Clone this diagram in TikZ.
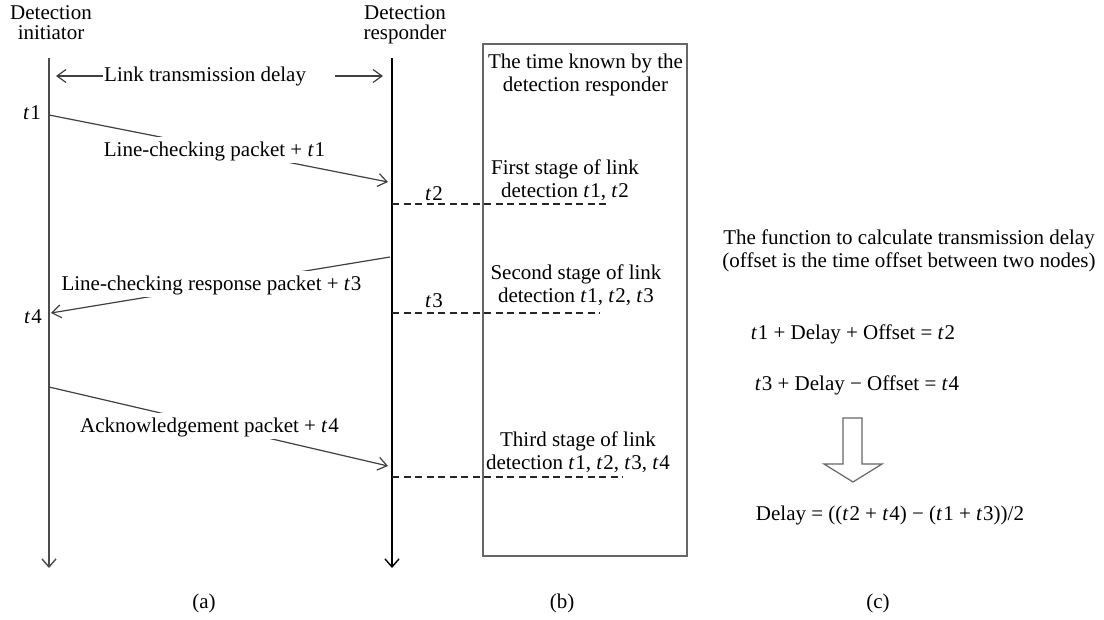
\documentclass[tikz,border=0pt]{standalone}
\usepackage{fontspec}
\setmainfont{Liberation Serif}
\usetikzlibrary{arrows.meta}
% italic time stamp, e.g. \tm1 -> t1
\newcommand{\tm}[1]{\textit{t}\kern0.8pt#1}
\begin{document}
\begin{tikzpicture}[x=1pt,y=-1pt,
  font=\fontsize{21}{23}\selectfont,
  life/.style={line width=1.6pt, draw=black!70, -{Straight Barb[length=8pt,width=14pt,line width=1.4pt]}},
  msg/.style={line width=1.2pt, draw=black!75, -{Straight Barb[length=9pt,width=13pt,line width=1.2pt]}},
  stamp/.style={draw=black!85, line width=1.2pt, dash pattern=on 7pt off 4.5pt},
  lbl/.style={anchor=base, inner sep=0pt},
  multi/.style={lbl, align=center},
  cut/.style={anchor=base, fill=white, inner xsep=2pt, inner ysep=5pt, text height=15pt, text depth=1pt},
  panel/.style={draw=black!60, line width=1.3pt, minimum width=204pt, minimum height=512pt, inner sep=0pt},
  hollow/.style={draw=black!60, line width=1.2pt, fill=white}
]
\useasboundingbox (0,0) rectangle (1104,620);

% ---- (a) lifelines ----
% (multi-line nodes are placed by the baseline of their last line)
\node[multi, font=\fontsize{21}{20}\selectfont] (hi) at (51,39.5) {Detection\\initiator};
\node[multi, font=\fontsize{21}{20}\selectfont] (hr) at (405,39.5) {Detection\\responder};

\coordinate (itop) at (49,58);  \coordinate (ibot) at (49,568);
\coordinate (rtop) at (392,58); \coordinate (rbot) at (392,568);
\draw[life] (itop) -- (ibot);
\draw[life, draw=black] (rtop) -- (rbot);

% link delay span
\node[lbl, anchor=base west] (ltd) at (104,82) {Link transmission delay};
\coordinate (dls) at (103,76); \coordinate (dl) at (56,76);
\coordinate (drs) at (335,76); \coordinate (dr) at (383,76);
\draw[msg] (dls) -- (dl);
\draw[msg] (drs) -- (dr);

% messages
\coordinate (p1s) at (49,115);  \coordinate (p1e) at (388,182);
\coordinate (p2s) at (390,257); \coordinate (p2e) at (51,313);
\coordinate (p3s) at (49,387);  \coordinate (p3e) at (388,466);
\draw[msg] (p1s) -- (p1e);
\draw[msg] (p2s) -- (p2e);
\draw[msg] (p3s) -- (p3e);
\node[cut] (m1) at (214.5,157) {Line-checking packet + \tm1};
\node[cut] (m2) at (211.5,291) {Line-checking response packet + \tm3};
\node[cut] (m3) at (209.5,433) {Acknowledgement packet + \tm4};

% time stamps
\node[lbl] (t1) at (32,120) {\tm1};
\node[lbl] (t4) at (33,324) {\tm4};
\node[lbl] (t2) at (434,201) {\tm2};
\node[lbl] (t3) at (434,308) {\tm3};

% ---- (b) known times ----
\node[panel] (kb) at (585,300) {};
\node[multi] (kt) at (585.5,92) {The time known by the\\detection responder};
\node[multi] (st1) at (565,198) {First stage of link\\detection \tm1, \tm2};
\node[multi] (st2) at (576,303) {Second stage of link\\detection \tm1, \tm2, \tm3};
\node[multi] (st3) at (578,469) {Third stage of link\\detection \tm1, \tm2, \tm3, \tm4};

\coordinate (s2) at (392,204); \coordinate (s2e) at (610,204);
\coordinate (s3) at (392,313); \coordinate (s3e) at (600,313);
\coordinate (s4) at (392,477); \coordinate (s4e) at (623,477);
\draw[stamp] (s2) -- (s2e);
\draw[stamp] (s3) -- (s3e);
\draw[stamp] (s4) -- (s4e);

% ---- (c) delay computation ----
\node[multi] (fn) at (909,268) {The function to calculate transmission delay\\(offset is the time offset between two nodes)};
\node[lbl] (eq1) at (853,340) {\tm1 + Delay + Offset = \tm2};
\node[lbl] (eq2) at (857,391) {\tm3 + Delay − Offset = \tm4};
\draw[hollow] (843,418) -- (862,418) -- (862,464) -- (882,464) -- (853,482)
  -- (824,464) -- (843,464) -- cycle;
\node[lbl] (res) at (890,520) {Delay = ((\tm2 + \tm4) − (\tm1 + \tm3))/2};

% captions
\node[lbl] (ca) at (204,608) {(a)};
\node[lbl] (cb) at (562,608) {(b)};
\node[lbl] (cc) at (878,608) {(c)};
\end{tikzpicture}
\end{document}
